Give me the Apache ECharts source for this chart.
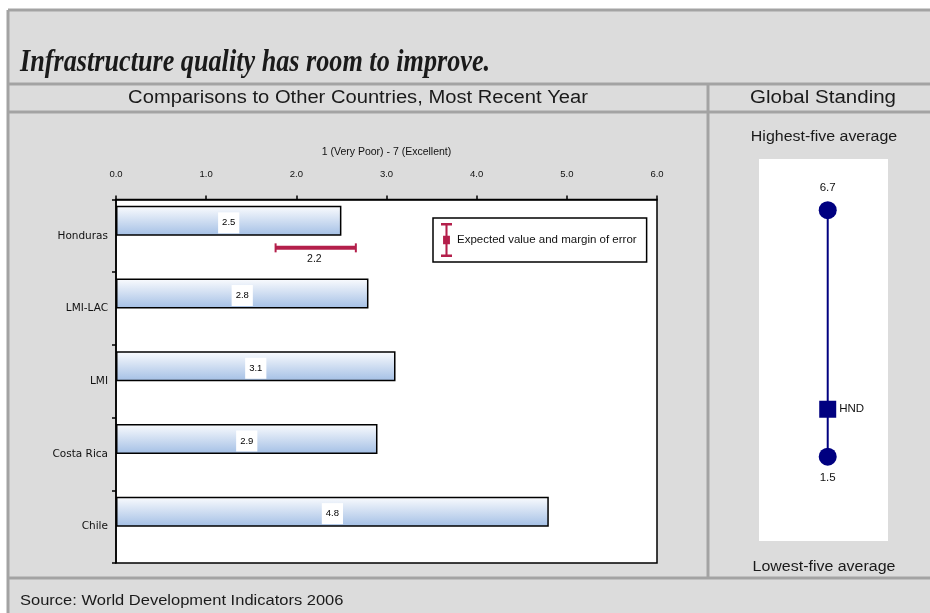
<!DOCTYPE html>
<html>
<head>
<meta charset="utf-8">
<script src="https://cdn.jsdelivr.net/npm/echarts@6/dist/echarts.min.js"></script>
<style>
html,body{margin:0;padding:0;background:#fff;}
#chart{width:930px;height:613px;}
</style>
</head>
<body>
<div id="chart"></div>
<script>
// ---------- data ----------
const categories = ['Honduras', 'LMI-LAC', 'LMI', 'Costa Rica', 'Chile'];
const scores = [2.5, 2.8, 3.1, 2.9, 4.8];
const expectedCategory = ['Honduras'];
const expectedValue = [2.2];
const expectedLow = [1.77];
const expectedHigh = [2.66];
const xTickMin = 0, xTickMax = 6, xTickStep = 1;
const standingLabels = ['Highest-five average', 'Lowest-five average'];
const standingHigh = 6.7;
const standingLow = 1.5;
const standingCountry = 'HND';
const standingCountryValue = 2.5;

const titleText = 'Infrastructure quality has room to improve.';
const leftHeader = 'Comparisons to Other Countries, Most Recent Year';
const rightHeader = 'Global Standing';
const axisTitle = '1 (Very Poor) - 7 (Excellent)';
const legendName = 'Expected value and margin of error';
const sourceText = 'Source: World Development Indicators 2006';

// ---------- chart ----------
const chart = echarts.init(document.getElementById('chart'), null, {renderer: 'canvas'});
const BG = '#dcdcdc', FRAME = '#a3a3a3', NAVY = '#000080', CRIMSON = '#b41f4b';
const sans = '"Liberation Sans", Arial, sans-serif';
const wide = '"DejaVu Sans", Verdana, sans-serif';

const errorData = expectedCategory.map((c, i) => [categories.indexOf(c), expectedLow[i], expectedHigh[i], expectedValue[i]]);

function frameLine(x1, y1, x2, y2) {
  return {type: 'line', shape: {x1, y1, x2, y2}, style: {stroke: FRAME, lineWidth: 3}, silent: true, z: 10};
}
function txt(x, y, text, font, align, sx) {
  return {type: 'text', x, y, scaleX: sx || 1, style: {text, font, fill: '#1a1a1a', textAlign: align, textVerticalAlign: 'middle'}, silent: true, z: 11};
}

const option = {
  animation: false,
  backgroundColor: '#fff',
  graphic: [
    {type: 'rect', shape: {x: 8, y: 10, width: 930, height: 610}, style: {fill: BG}, z: -10, silent: true},
    frameLine(8, 10, 930, 10),
    frameLine(8, 10, 8, 613),
    frameLine(8, 84, 930, 84),
    frameLine(8, 112, 930, 112),
    frameLine(708, 84, 708, 578),
    frameLine(8, 578, 930, 578),
    txt(20, 63, titleText, 'italic bold 31px "Liberation Serif", "Times New Roman", serif', 'left', 0.845),
    txt(358, 98, leftHeader, '18px ' + sans, 'center', 1.12),
    txt(823, 98, rightHeader, '18px ' + sans, 'center', 1.14),
    txt(824, 137, standingLabels[0], '14px ' + sans, 'center', 1.14),
    txt(824, 567, standingLabels[1], '14px ' + sans, 'center', 1.14),
    txt(20, 601, sourceText, '15px ' + sans, 'left', 1.1)
  ],
  legend: {
    data: [legendName],
    left: 433, top: 218,
    orient: 'vertical',
    backgroundColor: '#fff',
    borderColor: '#000', borderWidth: 1.5, borderRadius: 0,
    padding: [5, 10, 5, 8],
    itemWidth: 11, itemHeight: 34, itemGap: 0,
    symbolKeepAspect: false,
    icon: 'path://M2,0H18V3H11.5V15H15V25H11.5V37H18V40H2V37H8.5V25H5V15H8.5V3H2Z',
    textStyle: {fontSize: 11.5, color: '#111', fontFamily: sans, padding: [0, 0, 0, 0]},
    selectedMode: false
  },
  grid: [
    {left: 116, top: 199.5, width: 541, height: 363.5, show: true, backgroundColor: '#fff', borderColor: '#000', borderWidth: 1.5, containLabel: false},
    {left: 759, top: 159, width: 129, height: 382, show: true, backgroundColor: '#fff', borderWidth: 0}
  ],
  xAxis: [
    {
      gridIndex: 0, type: 'value', position: 'top',
      min: xTickMin, max: xTickMax, interval: xTickStep,
      name: axisTitle, nameLocation: 'middle', nameGap: 42,
      nameTextStyle: {fontSize: 10.5, color: '#111', fontFamily: sans},
      axisLine: {show: true, lineStyle: {color: '#000', width: 1.5}},
      axisTick: {show: true, length: 4, lineStyle: {color: '#000', width: 1.5}},
      splitLine: {show: false},
      axisLabel: {fontSize: 9.5, color: '#111', margin: 20, fontFamily: sans, formatter: v => v.toFixed(1)}
    },
    {gridIndex: 1, type: 'value', min: -1.14, max: 1, show: false}
  ],
  yAxis: [
    {
      gridIndex: 0, type: 'category', inverse: true, data: categories,
      axisLine: {show: true, lineStyle: {color: '#000', width: 1.5}},
      axisTick: {show: true, length: 4, lineStyle: {color: '#000', width: 1.5}},
      axisLabel: {fontSize: 10.5, color: '#111', margin: 8, fontFamily: wide}
    },
    {gridIndex: 1, type: 'value', min: -0.28, max: 7.78, show: false}
  ],
  series: [
    {
      name: 'Score', type: 'bar', xAxisIndex: 0, yAxisIndex: 0,
      data: scores, barWidth: 30, barGap: '0%',
      itemStyle: {
        color: {type: 'linear', x: 0, y: 0, x2: 0, y2: 1, colorStops: [{offset: 0, color: '#fbfcfe'}, {offset: 1, color: '#a3bfe5'}]},
        borderColor: '#000', borderWidth: 1.5
      },
      label: {
        show: true, position: 'inside', offset: [0, 2],
        formatter: p => p.value.toFixed(1),
        fontSize: 9.5, color: '#000', fontFamily: sans,
        backgroundColor: '#fff', padding: [3, 4, 8, 4]
      },
      z: 2
    },
    {
      name: 'spacer', type: 'bar', xAxisIndex: 0, yAxisIndex: 0,
      data: categories.map(() => '-'), barWidth: 30, barGap: '0%', silent: true
    },
    {
      name: legendName, type: 'custom', xAxisIndex: 0, yAxisIndex: 0,
      data: errorData,
      encode: {y: 0, x: [1, 2, 3]},
      itemStyle: {color: CRIMSON},
      renderItem: function (params, api) {
        const idx = api.value(0);
        const pL = api.coord([api.value(1), idx]);
        const pH = api.coord([api.value(2), idx]);
        const pM = api.coord([api.value(3), idx]);
        const band = api.size([0, 1])[1];
        const y = pL[1] + band * 0.165;
        const st = {stroke: CRIMSON, lineWidth: 4};
        return {
          type: 'group',
          children: [
            {type: 'line', shape: {x1: pL[0], y1: y, x2: pH[0], y2: y}, style: st},
            {type: 'line', shape: {x1: pL[0], y1: y - 4.5, x2: pL[0], y2: y + 4.5}, style: {stroke: CRIMSON, lineWidth: 2}},
            {type: 'line', shape: {x1: pH[0], y1: y - 4.5, x2: pH[0], y2: y + 4.5}, style: {stroke: CRIMSON, lineWidth: 2}},
            {type: 'text', x: pM[0], y: y + 11, style: {text: api.value(3).toFixed(1), font: '10.5px ' + sans, fill: '#111', textAlign: 'center', textVerticalAlign: 'middle'}}
          ]
        };
      },
      z: 5
    },
    {
      name: 'Range', type: 'line', xAxisIndex: 1, yAxisIndex: 1,
      data: [
        {value: [0, standingHigh], label: {position: 'top', distance: 7}},
        {value: [0, standingLow], label: {position: 'bottom', distance: 6}}
      ],
      symbol: 'circle', symbolSize: 18,
      lineStyle: {color: NAVY, width: 2},
      itemStyle: {color: NAVY},
      label: {show: true, formatter: p => p.value[1].toFixed(1), fontSize: 11.5, color: '#111', fontFamily: sans},
      z: 3
    },
    {
      name: standingCountry, type: 'scatter', xAxisIndex: 1, yAxisIndex: 1,
      data: [[0, standingCountryValue]],
      symbol: 'rect', symbolSize: 17,
      itemStyle: {color: NAVY, opacity: 1},
      label: {show: true, position: 'right', distance: 3, formatter: standingCountry, fontSize: 11.5, color: '#111', fontFamily: sans},
      z: 4
    }
  ]
};
chart.setOption(option);
</script>
</body>
</html>
